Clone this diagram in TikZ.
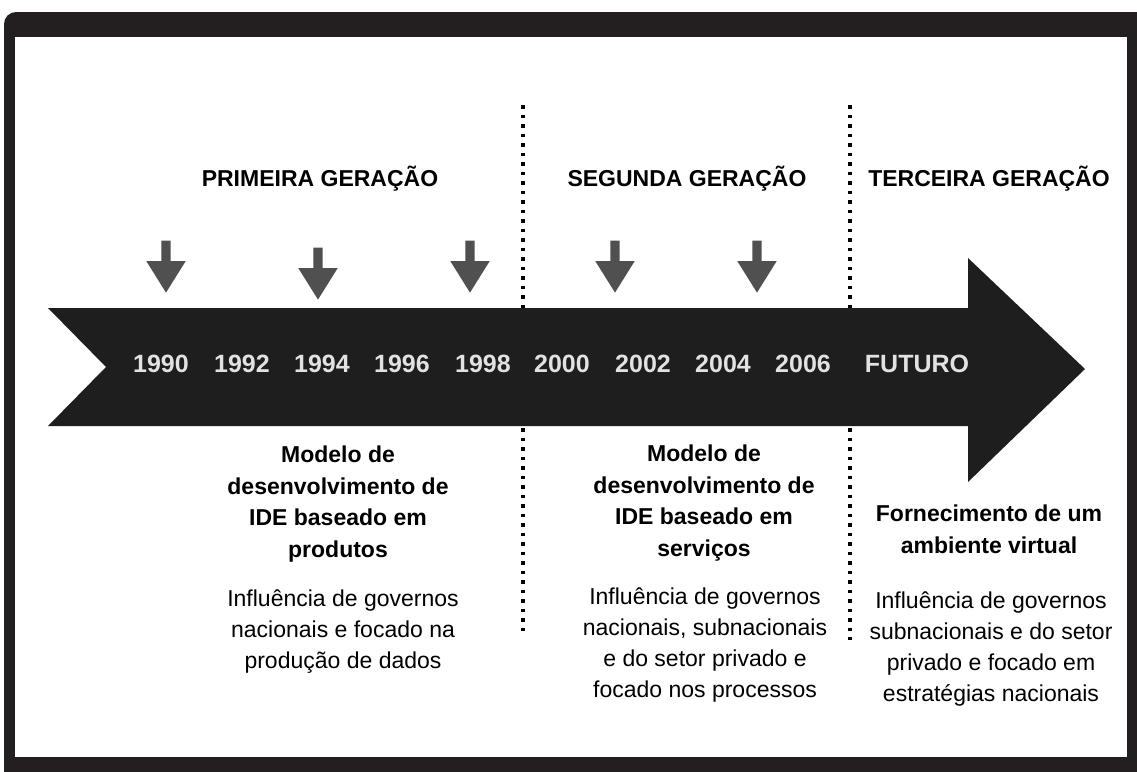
\documentclass[tikz,border=0pt]{standalone}
\usepackage{fontspec}
\setmainfont{Liberation Sans}
\usepackage{xcolor}
\usetikzlibrary{positioning, shapes.arrows}
\definecolor{framecolor}{HTML}{231F20}
\definecolor{bandcolor}{HTML}{1E1E1E}
\definecolor{tickcolor}{HTML}{505050}
\definecolor{yearcolor}{HTML}{E2E2E2}

\begin{document}
\begin{tikzpicture}[x=1pt, y=-1pt,
    % Generation headings above the timeline band.
    genlabel/.style={font=\bfseries\fontsize{23}{28}\selectfont,
                     anchor=base, inner sep=0pt},
    % Years printed inside the black timeline band.
    year/.style={font=\bfseries\fontsize{25}{30}\selectfont,
                 text=yearcolor, inner sep=0pt},
    % Bold model titles below the band.
    modeltitle/.style={font=\bfseries\fontsize{23}{31.5}\selectfont,
                       align=center, anchor=north, inner sep=0pt},
    % Plain description text under each title.
    modeldesc/.style={font=\fontsize{23}{31}\selectfont,
                      align=center, anchor=north, inner sep=0pt},
    % Small grey markers pointing down at the band.
    marker/.style={single arrow, fill=tickcolor, draw=none, rotate=-90,
                   anchor=tip, inner xsep=0pt, inner ysep=4.5pt,
                   minimum height=52pt, minimum width=39pt,
                   single arrow head extend=15pt, single arrow tip angle=64},
    % Dotted separators between generations.
    divider/.style={line width=3.5pt, dash pattern=on 3.5pt off 6pt}
]

    \useasboundingbox (0,0) rectangle (1137,771);

    % === Frame ===
    \fill[framecolor, rounded corners=12pt] (4,12) rectangle (1150,790);
    \fill[white] (15,37) rectangle (1127,757);

    % === Separators (drawn first, the band covers them) ===
    \coordinate (sepAtop) at (523,105);
    \coordinate (sepAbot) at (523,635);
    \coordinate (sepBtop) at (850,105);
    \coordinate (sepBbot) at (850,640);
    \draw[divider] (sepAtop) -- (sepAbot);
    \draw[divider] (sepBtop) -- (sepBbot);

    % === Timeline band: notched tail, wide head ===
    \fill[bandcolor] (48,308) -- (968,308) -- (968,258) -- (1085,369)
        -- (968,482) -- (968,426) -- (48,426) -- (106,367) -- cycle;

    % === Years ===
    \node[year] (y1990) at (161,364) {1990};
    \node[year] (y1992) at (242,364) {1992};
    \node[year] (y1994) at (322,364) {1994};
    \node[year] (y1996) at (402,364) {1996};
    \node[year] (y1998) at (483,364) {1998};
    \node[year] (y2000) at (562,364) {2000};
    \node[year] (y2002) at (643,364) {2002};
    \node[year] (y2004) at (723,364) {2004};
    \node[year] (y2006) at (803,364) {2006};
    \node[year] (future) at (917,364) {FUTURO};

    % === Markers ===
    \node[marker] (m1) at (166,293) {};
    \node[marker] (m2) at (318,300) {};
    \node[marker] (m3) at (470,293) {};
    \node[marker] (m4) at (615,293) {};
    \node[marker] (m5) at (757,293) {};

    % === Generation headings ===
    \node[genlabel] (gen1) at (320,186) {PRIMEIRA GERAÇÃO};
    \node[genlabel] (gen2) at (687,186) {SEGUNDA GERAÇÃO};
    \node[genlabel] (gen3) at (989,186) {TERCEIRA GERAÇÃO};

    % === First generation: products ===
    \node[modeltitle] (prodtitle) at (338,446)
        {Modelo de\\desenvolvimento de\\IDE baseado em\\produtos};
    \node[modeldesc] (proddesc) at (343,590)
        {Influência de governos\\nacionais e focado na\\produção de dados};

    % === Second generation: services ===
    \node[modeltitle] (servtitle) at (704,445)
        {Modelo de\\desenvolvimento de\\IDE baseado em\\serviços};
    \node[modeldesc] (servdesc) at (705,588)
        {Influência de governos\\nacionais, subnacionais\\e do setor privado e\\focado nos processos};

    % === Third generation: virtual environment ===
    \node[modeltitle] (virttitle) at (989,505)
        {Fornecimento de um\\ambiente virtual};
    \node[modeldesc] (virtdesc) at (991,592)
        {Influência de governos\\subnacionais e do setor\\privado e focado em\\estratégias nacionais};

\end{tikzpicture}
\end{document}
